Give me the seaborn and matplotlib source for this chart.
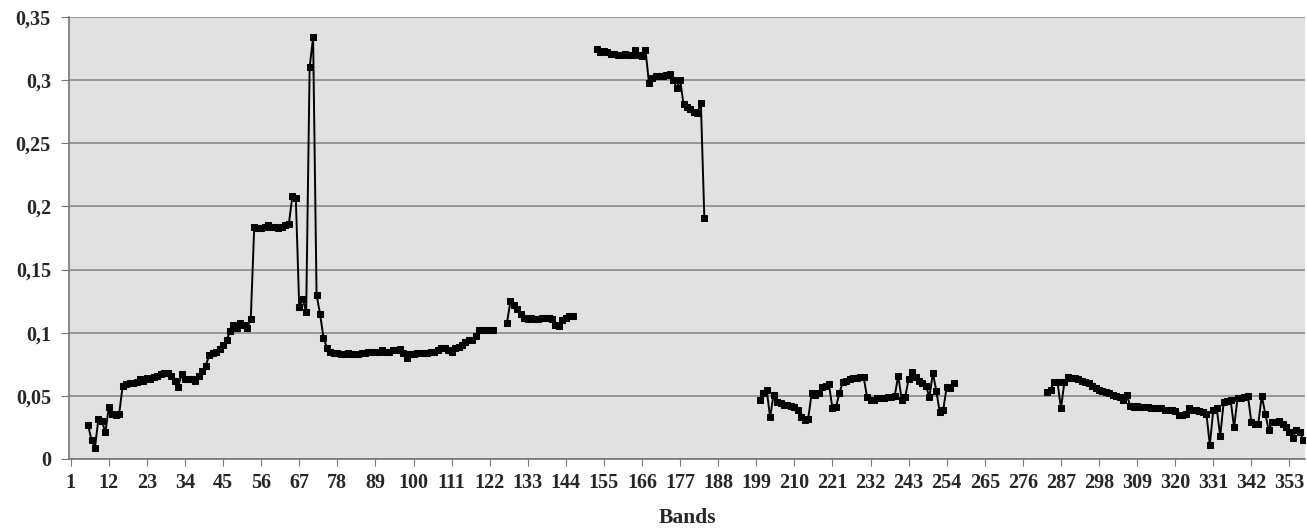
import pandas as pd
import seaborn as sns
import matplotlib.pyplot as plt
from matplotlib.ticker import MultipleLocator, FixedLocator, FuncFormatter

# spectrum pieces (first band of each piece + values)
start1 = 6
seg1 = [0.027, 0.015, 0.009, 0.032, 0.030, 0.021, 0.041, 0.036, 0.035, 0.036,
        0.058, 0.059, 0.060, 0.060, 0.061, 0.063, 0.062, 0.064, 0.063, 0.065,
        0.066, 0.067, 0.068, 0.068, 0.066, 0.062, 0.057, 0.067, 0.063, 0.063,
        0.063, 0.062, 0.066, 0.070, 0.074, 0.082, 0.084, 0.085, 0.087, 0.090,
        0.094, 0.101, 0.106, 0.104, 0.108, 0.106, 0.104, 0.111, 0.184, 0.183,
        0.183, 0.184, 0.185, 0.184, 0.184, 0.183, 0.184, 0.185, 0.186, 0.208,
        0.207, 0.120, 0.127, 0.116, 0.310, 0.334, 0.130, 0.115, 0.096, 0.088,
        0.085, 0.084, 0.084, 0.083, 0.083, 0.084, 0.083, 0.083, 0.083, 0.084,
        0.084, 0.085, 0.085, 0.085, 0.085, 0.086, 0.085, 0.085, 0.086, 0.086,
        0.087, 0.084, 0.080, 0.083, 0.083, 0.084, 0.084, 0.084, 0.084, 0.085,
        0.085, 0.086, 0.088, 0.088, 0.086, 0.085, 0.088, 0.089, 0.090, 0.093,
        0.094, 0.094, 0.097, 0.102, 0.102, 0.102, 0.102, 0.102]

start2 = 127
seg2 = [0.108, 0.125, 0.122, 0.119, 0.115, 0.112, 0.111, 0.112, 0.111, 0.111,
        0.112, 0.112, 0.112, 0.111, 0.106, 0.105, 0.110, 0.112, 0.113, 0.113]

start3 = 153
seg3 = [0.325, 0.322, 0.323, 0.322, 0.321, 0.321, 0.320, 0.320, 0.321, 0.320,
        0.320, 0.324, 0.320, 0.319, 0.324, 0.298, 0.302, 0.303, 0.303, 0.303,
        0.304, 0.305, 0.300, 0.294, 0.300, 0.281, 0.279, 0.277, 0.275, 0.274,
        0.282, 0.191]

start4 = 200
seg4 = [0.047, 0.052, 0.055, 0.033, 0.051, 0.045, 0.044, 0.043, 0.043, 0.042,
        0.041, 0.039, 0.033, 0.031, 0.032, 0.052, 0.051, 0.052, 0.057, 0.058,
        0.059, 0.040, 0.041, 0.052, 0.061, 0.062, 0.063, 0.064, 0.064, 0.065,
        0.065, 0.049, 0.047, 0.047, 0.048, 0.048, 0.048, 0.049, 0.049, 0.050,
        0.066, 0.047, 0.049, 0.063, 0.069, 0.065, 0.062, 0.060, 0.058, 0.049,
        0.068, 0.054, 0.037, 0.039, 0.057, 0.056, 0.060]

start5 = 283
seg5 = [0.053, 0.055, 0.061, 0.061, 0.040, 0.061, 0.065, 0.064, 0.064, 0.063,
        0.062, 0.061, 0.060, 0.058, 0.056, 0.055, 0.054, 0.053, 0.052, 0.051,
        0.050, 0.049, 0.047, 0.051, 0.042, 0.041, 0.042, 0.041, 0.041, 0.041,
        0.040, 0.040, 0.040, 0.040, 0.039, 0.039, 0.039, 0.038, 0.035, 0.035,
        0.036, 0.040, 0.039, 0.039, 0.038, 0.037, 0.036, 0.011, 0.039, 0.040,
        0.018, 0.045, 0.046, 0.047, 0.025, 0.048, 0.048, 0.049, 0.050, 0.029,
        0.028, 0.028, 0.050, 0.036, 0.023, 0.029, 0.029, 0.030, 0.028, 0.025,
        0.021, 0.017, 0.023, 0.021, 0.015]

n_bands = 357
y_ticks = [0, 0.05, 0.1, 0.15, 0.2, 0.25, 0.3, 0.35]

rows = []
for k, (s, vals) in enumerate([(start1, seg1), (start2, seg2), (start3, seg3),
                               (start4, seg4), (start5, seg5)]):
    for i, v in enumerate(vals):
        rows.append({'band': s + i, 'value': v, 'seg': k})
df = pd.DataFrame(rows)

sns.set_style('white')
plt.rcParams['font.family'] = ['Liberation Serif', 'DejaVu Serif']

fig = plt.figure(figsize=(13.07, 5.30), dpi=100)
ax = fig.add_axes([0.0528, 0.134, 0.9457, 0.834])
ax.set_facecolor('#e1e1e1')

sns.lineplot(data=df, x='band', y='value', units='seg', estimator=None,
             color='black', linewidth=1.4, marker='s', markersize=4.8,
             markeredgecolor='black', ax=ax, legend=False)

ax.set_xlim(0.5, n_bands + 0.5)
ax.set_ylim(0, 0.35)
ax.xaxis.set_major_locator(FixedLocator(list(range(1, n_bands + 1, 11))))
ax.xaxis.set_minor_locator(MultipleLocator(1))
ax.set_yticks(y_ticks)
ax.yaxis.set_major_formatter(FuncFormatter(lambda v, p: ('%g' % round(v, 2)).replace('.', ',')))

ax.grid(axis='y', color='#8a8a8a', linewidth=1.2)
ax.set_axisbelow(True)
for sp in ['top', 'right']:
    ax.spines[sp].set_visible(False)
ax.spines['left'].set_color('#777777')
ax.spines['bottom'].set_color('#777777')
ax.spines['left'].set_linewidth(1.2)
ax.spines['bottom'].set_linewidth(1.2)

ax.tick_params(axis='x', which='major', length=5, color='#777777', labelsize=14.5, pad=5)
ax.tick_params(axis='x', which='minor', length=5, color='#999999', width=0.8)
ax.tick_params(axis='y', length=6, color='#777777', labelsize=14.5, pad=7)
ax.tick_params(bottom=True, left=True)
for lab in ax.get_xticklabels() + ax.get_yticklabels():
    lab.set_fontweight('bold')

ax.set_xlabel('Bands', fontsize=15.5, fontweight='bold', labelpad=11)
ax.set_ylabel('')

fig.savefig('out.png', dpi=100)
